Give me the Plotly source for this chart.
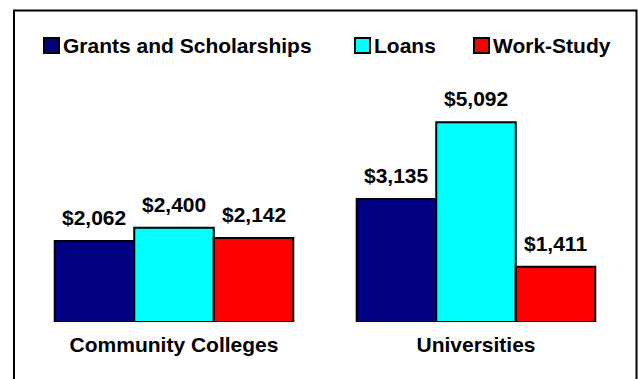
import plotly.graph_objects as go

categories = ["Community Colleges", "Universities"]
series_names = ["Grants and Scholarships", "Loans", "Work-Study"]
grants = [2062, 3135]
loans = [2400, 5092]
work_study = [2142, 1411]
series_values = [grants, loans, work_study]
colors = ["#000080", "#00FFFF", "#FF0000"]

W, H = 638, 379
ML, MR, MT, MB = 23, 11, 67, 57
PW, PH = W - ML - MR, H - MT - MB
FONT = "Arial, Liberation Sans, sans-serif"
BARGAP = 0.21


def px_x(px):
    return (px - ML) / PW


def px_y(py):
    return (H - MB - py) / PH


fig = go.Figure()
for name, vals, col in zip(series_names, series_values, colors):
    fig.add_trace(go.Bar(
        x=categories, y=vals, name=name,
        marker=dict(color=col, line=dict(color="#000000", width=2)),
        showlegend=False,
    ))

annotations = []
bar_w = (1 - BARGAP) / len(series_names)
for j, vals in enumerate(series_values):
    off = (j - (len(series_names) - 1) / 2) * bar_w
    for i, v in enumerate(vals):
        annotations.append(dict(
            x=i + off, y=v, xref="x", yref="y", text=f"${v:,}",
            showarrow=False, yanchor="bottom", yshift=10,
            font=dict(family=FONT, size=21, color="#000000", weight="bold"),
        ))

# manual legend (key squares + labels)
legend_x = [44, 355, 474]
shapes = []
for lx, name, col in zip(legend_x, series_names, colors):
    shapes.append(dict(type="rect", xref="paper", yref="paper",
                       x0=px_x(lx), x1=px_x(lx + 15), y0=px_y(53), y1=px_y(38),
                       fillcolor=col, line=dict(color="#000000", width=2)))
    annotations.append(dict(
        x=px_x(lx + 17), y=px_y(45), xref="paper", yref="paper", text=name,
        showarrow=False, xanchor="left", yanchor="middle",
        font=dict(family=FONT, size=21, color="#000000", weight="bold"),
    ))

# outer frame
shapes.append(dict(type="rect", xref="paper", yref="paper",
                   x0=px_x(14), x1=px_x(636.5), y0=px_y(390), y1=px_y(10.5),
                   line=dict(color="#000000", width=2), fillcolor="rgba(0,0,0,0)",
                   layer="above"))

fig.update_layout(
    width=W, height=H,
    margin=dict(l=ML, r=MR, t=MT, b=MB, pad=0),
    barmode="group", bargap=BARGAP, bargroupgap=0,
    paper_bgcolor="#FFFFFF", plot_bgcolor="#FFFFFF",
    showlegend=False,
    annotations=annotations, shapes=shapes,
    xaxis=dict(type="category", showgrid=False, showline=False, zeroline=False,
               ticks="", tickfont=dict(family=FONT, size=21, color="#000000", weight="bold"),
               ticklabelstandoff=8),
    yaxis=dict(range=[0, 6500], visible=False, showgrid=False, zeroline=False),
)

fig.write_html("out.html")
